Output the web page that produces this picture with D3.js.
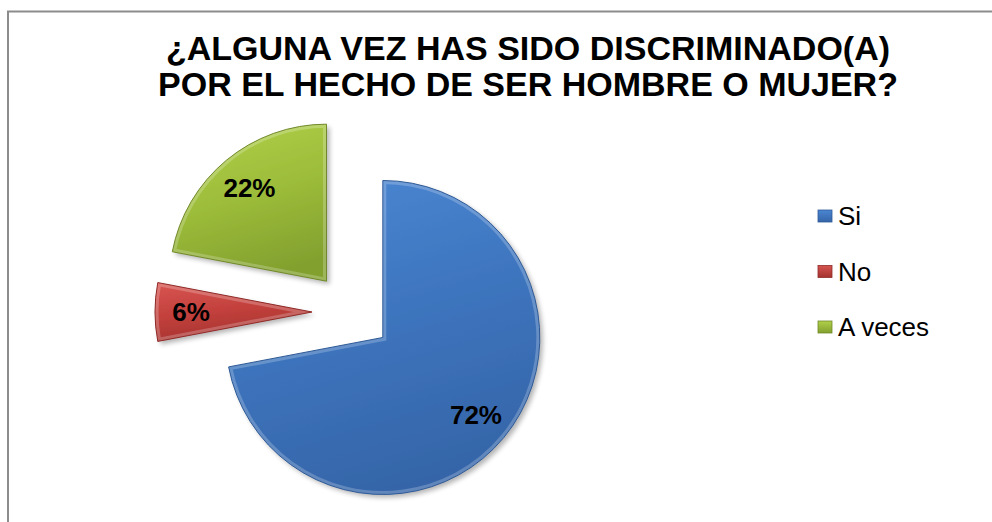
<!DOCTYPE html>
<html><head><meta charset="utf-8">
<script src="https://cdn.jsdelivr.net/npm/d3@7"></script>
<style>html,body{margin:0;padding:0;background:#fff;overflow:hidden}</style>
</head><body>
<svg id="c" width="992" height="522"></svg>
<script>
const titleLines = ["¿ALGUNA VEZ HAS SIDO DISCRIMINADO(A)", "POR EL HECHO DE SER HOMBRE O MUJER?"];
const categories = ["Si", "No", "A veces"];
const values = [72, 6, 22];
const labels = ["72%", "6%", "22%"];

const colors = {
  "Si":      {light:"#4a86d2", mid:"#3d74bd", dark:"#3565a8", edge:"#2f5a96"},
  "No":      {light:"#d65450", mid:"#c2403c", dark:"#a3322f", edge:"#8f2b28"},
  "A veces": {light:"#b0d04a", mid:"#9cbc3a", dark:"#82a02e", edge:"#71892a"}
};
const font = "'Liberation Sans', Arial, sans-serif";

const svg = d3.select("#c");
const defs = svg.append("defs");

// frame
svg.append("rect").attr("x", 8).attr("y", 11.5).attr("width", 1000).attr("height", 530)
  .attr("fill", "#fff").attr("stroke", "#8c8c8c").attr("stroke-width", 2);

// title
svg.append("text").attr("x", 528).attr("y", 60)
  .attr("text-anchor", "middle").attr("font-family", font).attr("font-weight", "bold")
  .attr("font-size", 34).attr("fill", "#000")
  .selectAll("tspan").data(titleLines).join("tspan")
  .attr("x", 528).attr("dy", (d, i) => i === 0 ? 0 : 36).text(d => d);

// shadow filter
const f = defs.append("filter").attr("id", "sh").attr("x", "-20%").attr("y", "-20%").attr("width", "140%").attr("height", "140%");
f.append("feGaussianBlur").attr("in", "SourceAlpha").attr("stdDeviation", 2.5).attr("result", "b");
f.append("feOffset").attr("in", "b").attr("dx", 3).attr("dy", 3).attr("result", "o");
f.append("feComponentTransfer").attr("in", "o").attr("result", "o2")
  .append("feFuncA").attr("type", "linear").attr("slope", 0.3);
const m = f.append("feMerge");
m.append("feMergeNode").attr("in", "o2");
m.append("feMergeNode").attr("in", "SourceGraphic");

const cx = 352, cy = 312, R = 157, explode = 40;
const pie = d3.pie().sort(null).value(d => d.v);
const arcs = pie(categories.map((c, i) => ({c, v: values[i], l: labels[i]})));
const arc = d3.arc().innerRadius(0).outerRadius(R);
const labelArc = d3.arc().innerRadius(R * 0.77).outerRadius(R * 0.77);

categories.forEach((c, i) => {
  const col = colors[c];
  const g = defs.append("linearGradient").attr("id", "g" + i)
    .attr("x1", 0.2).attr("y1", 0).attr("x2", 0.5).attr("y2", 1);
  g.append("stop").attr("offset", "0%").attr("stop-color", col.light);
  g.append("stop").attr("offset", "50%").attr("stop-color", col.mid);
  g.append("stop").attr("offset", "100%").attr("stop-color", col.dark);
  const lg = defs.append("linearGradient").attr("id", "lg" + i)
    .attr("x1", 0).attr("y1", 0).attr("x2", 0).attr("y2", 1);
  lg.append("stop").attr("offset", "0%").attr("stop-color", col.light);
  lg.append("stop").attr("offset", "100%").attr("stop-color", col.dark);
  const cp = defs.append("clipPath").attr("id", "cp" + i);
  cp.append("path").attr("d", arc(arcs[i]));
});

const sl = svg.append("g").selectAll("g").data(arcs).join("g")
  .attr("transform", d => {
    const a = (d.startAngle + d.endAngle) / 2;
    return `translate(${cx + explode * Math.sin(a)},${cy - explode * Math.cos(a)})`;
  });
sl.append("path").attr("d", arc).attr("fill", (d, i) => `url(#g${i})`)
  .attr("filter", "url(#sh)");
// bevel: inner light edge, clipped to slice
sl.append("path").attr("d", arc).attr("fill", "none")
  .attr("clip-path", (d, i) => `url(#cp${i})`)
  .attr("stroke", "#ffffff").attr("stroke-opacity", 0.22).attr("stroke-width", 7);
sl.append("path").attr("d", arc).attr("fill", "none")
  .attr("stroke", (d, i) => colors[categories[i]].edge).attr("stroke-width", 1);

// labels
svg.append("g").selectAll("text").data(arcs).join("text")
  .attr("transform", d => {
    const a = (d.startAngle + d.endAngle) / 2;
    const [x, y] = labelArc.centroid(d);
    return `translate(${cx + explode * Math.sin(a) + x},${cy - explode * Math.cos(a) + y})`;
  })
  .attr("text-anchor", "middle").attr("dy", "0.36em")
  .attr("font-family", font).attr("font-weight", "bold").attr("font-size", 26)
  .attr("fill", "#000").text(d => d.data.l);

// legend
const yL = d3.scalePoint().domain(categories).range([216, 327]);
const lg = svg.append("g").selectAll("g").data(categories).join("g")
  .attr("transform", d => `translate(818,${yL(d)})`);
lg.append("rect").attr("x", 0).attr("y", -6).attr("width", 14).attr("height", 12)
  .attr("fill", (d, i) => `url(#lg${i})`).attr("stroke", (d) => colors[d].edge).attr("stroke-width", 0.8);
lg.append("text").attr("x", 20).attr("dy", "0.36em").attr("font-family", font)
  .attr("font-size", 26).attr("fill", "#000").text(d => d);
</script>
</body></html>
